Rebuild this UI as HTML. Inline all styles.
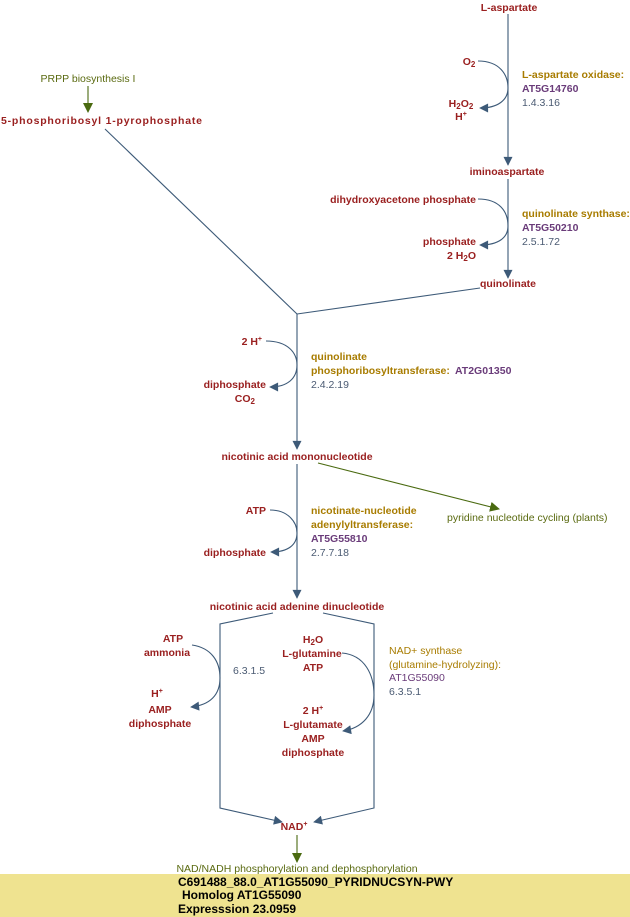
<!DOCTYPE html>
<html><head><meta charset="utf-8"><style>
html,body{margin:0;padding:0;background:#fff;}
svg{display:block;font-family:"Liberation Sans",sans-serif;}
.c{fill:#9a2020;font-weight:bold;font-size:10.5px;}
.g{fill:#a87c00;font-weight:bold;font-size:10.5px;}
.p{fill:#6a3c7a;font-weight:bold;font-size:10.5px;}
.e{fill:#4a5a72;font-size:10.5px;}
.gn{fill:#5a6a10;font-size:10.5px;}
.gp{fill:#a87c00;font-size:10.5px;}
.pp{fill:#6a3c7a;font-size:10.5px;}
.b{fill:#000;font-weight:bold;font-size:12px;}
.l{stroke:#3d5a78;stroke-width:1.1;fill:none;}
.o{stroke:#4a6a10;stroke-width:1.1;fill:none;}
</style></head><body>
<svg width="630" height="917" viewBox="0 0 630 917">
<defs>
<marker id="a" viewBox="0 0 10 10" refX="9" refY="5" markerWidth="12" markerHeight="9" orient="auto" markerUnits="userSpaceOnUse"><path d="M0,0L10,5L0,10z" fill="#3d5a78"/></marker>
<marker id="ag" viewBox="0 0 10 10" refX="9" refY="5" markerWidth="10" markerHeight="10" orient="auto" markerUnits="userSpaceOnUse"><path d="M0,0L10,5L0,10z" fill="#4a6a10"/></marker>
</defs>
<text class="c" x="509" y="11" text-anchor="middle">L-aspartate</text>
<line class="l" x1="508" y1="14" x2="508" y2="165" marker-end="url(#a)"/>
<text class="c" x="469" y="65" text-anchor="middle">O<tspan font-size="8" dy="2">2</tspan></text>
<text class="c" x="461" y="107" text-anchor="middle">H<tspan font-size="8" dy="2">2</tspan><tspan dy="-2">O</tspan><tspan font-size="8" dy="2">2</tspan></text>
<text class="c" x="461" y="120" text-anchor="middle">H<tspan font-size="7" dy="-4">+</tspan></text>
<path class="l" d="M478,61 C500,61 508,75 508,88 C508,100 498,108 480,108" marker-end="url(#a)"/>
<text class="g" x="522" y="78">L-aspartate oxidase:</text>
<text class="p" x="522" y="92">AT5G14760</text>
<text class="e" x="522" y="106">1.4.3.16</text>
<text class="c" x="507" y="175" text-anchor="middle">iminoaspartate</text>
<line class="l" x1="508" y1="179" x2="508" y2="278" marker-end="url(#a)"/>
<text class="c" x="476" y="203" text-anchor="end">dihydroxyacetone phosphate</text>
<path class="l" d="M478,199 C500,199 508,212 508,226 C508,238 498,245 480,245" marker-end="url(#a)"/>
<text class="c" x="476" y="245" text-anchor="end">phosphate</text>
<text class="c" x="476" y="259" text-anchor="end">2 H<tspan font-size="8" dy="2">2</tspan><tspan dy="-2">O</tspan></text>
<text class="g" x="522" y="217">quinolinate synthase:</text>
<text class="p" x="522" y="231">AT5G50210</text>
<text class="e" x="522" y="245">2.5.1.72</text>
<text class="c" x="508" y="287" text-anchor="middle">quinolinate</text>
<text class="gn" x="88" y="82" text-anchor="middle">PRPP biosynthesis I</text>
<line class="o" x1="88" y1="86" x2="88" y2="112" marker-end="url(#ag)"/>
<text class="c" x="1" y="124" textLength="201" lengthAdjust="spacing">5-phosphoribosyl 1-pyrophosphate</text>
<line class="l" x1="105" y1="129" x2="297" y2="314"/>
<line class="l" x1="480" y1="288" x2="297" y2="314"/>
<line class="l" x1="297" y1="314" x2="297" y2="449" marker-end="url(#a)"/>
<text class="c" x="262" y="345" text-anchor="end">2 H<tspan font-size="7" dy="-4">+</tspan></text>
<path class="l" d="M266,341 C288,341 297,353 297,365 C297,378 288,387 270,387" marker-end="url(#a)"/>
<text class="c" x="266" y="388" text-anchor="end">diphosphate</text>
<text class="c" x="255" y="402" text-anchor="end">CO<tspan font-size="8" dy="2">2</tspan></text>
<text class="g" x="311" y="360">quinolinate</text>
<text class="g" x="311" y="374">phosphoribosyltransferase:</text>
<text class="p" x="455" y="374">AT2G01350</text>
<text class="e" x="311" y="388">2.4.2.19</text>
<text class="c" x="297" y="460" text-anchor="middle">nicotinic acid mononucleotide</text>
<line class="o" x1="318" y1="463" x2="499" y2="509" marker-end="url(#ag)"/>
<text class="gn" x="447" y="521">pyridine nucleotide cycling (plants)</text>
<line class="l" x1="297" y1="464" x2="297" y2="598" marker-end="url(#a)"/>
<text class="c" x="266" y="514" text-anchor="end">ATP</text>
<path class="l" d="M270,510 C288,510 297,522 297,533 C297,545 288,552 271,552" marker-end="url(#a)"/>
<text class="c" x="266" y="556" text-anchor="end">diphosphate</text>
<text class="g" x="311" y="514">nicotinate-nucleotide</text>
<text class="g" x="311" y="528">adenylyltransferase:</text>
<text class="p" x="311" y="542">AT5G55810</text>
<text class="e" x="311" y="556">2.7.7.18</text>
<text class="c" x="297" y="610" text-anchor="middle">nicotinic acid adenine dinucleotide</text>
<polyline class="l" points="273,613 220,624 220,808 282,822" marker-end="url(#a)"/>
<polyline class="l" points="323,613 374,624 374,808 314,822" marker-end="url(#a)"/>
<text class="c" x="173" y="642" text-anchor="middle">ATP</text>
<text class="c" x="167" y="656" text-anchor="middle">ammonia</text>
<path class="l" d="M192,645 C212,648 220,662 220,678 C220,695 210,705 191,707" marker-end="url(#a)"/>
<text class="c" x="157" y="697" text-anchor="middle">H<tspan font-size="7" dy="-4">+</tspan></text>
<text class="c" x="160" y="713" text-anchor="middle">AMP</text>
<text class="c" x="160" y="727" text-anchor="middle">diphosphate</text>
<text class="e" x="233" y="674">6.3.1.5</text>
<text class="c" x="313" y="643" text-anchor="middle">H<tspan font-size="8" dy="2">2</tspan><tspan dy="-2">O</tspan></text>
<text class="c" x="312" y="657" text-anchor="middle">L-glutamine</text>
<text class="c" x="313" y="671" text-anchor="middle">ATP</text>
<path class="l" d="M342,653 C365,655 374,675 374,695 C374,715 362,728 343,731" marker-end="url(#a)"/>
<text class="c" x="313" y="714" text-anchor="middle">2 H<tspan font-size="7" dy="-4">+</tspan></text>
<text class="c" x="313" y="728" text-anchor="middle">L-glutamate</text>
<text class="c" x="313" y="742" text-anchor="middle">AMP</text>
<text class="c" x="313" y="756" text-anchor="middle">diphosphate</text>
<text class="gp" x="389" y="654">NAD+ synthase</text>
<text class="gp" x="389" y="668">(glutamine-hydrolyzing):</text>
<text class="pp" x="389" y="681">AT1G55090</text>
<text class="e" x="389" y="695">6.3.5.1</text>
<text class="c" x="294" y="830" text-anchor="middle">NAD<tspan font-size="7" dy="-4">+</tspan></text>
<line class="o" x1="297" y1="835" x2="297" y2="862" marker-end="url(#ag)"/>
<text class="gn" x="297" y="872" text-anchor="middle">NAD/NADH phosphorylation and dephosphorylation</text>
<rect x="0" y="874" width="630" height="43" fill="#efe390"/>
<text class="b" x="178" y="886">C691488_88.0_AT1G55090_PYRIDNUCSYN-PWY</text>
<text class="b" x="182" y="899">Homolog AT1G55090</text>
<text class="b" x="178" y="913">Expresssion 23.0959</text>
</svg>
</body></html>
